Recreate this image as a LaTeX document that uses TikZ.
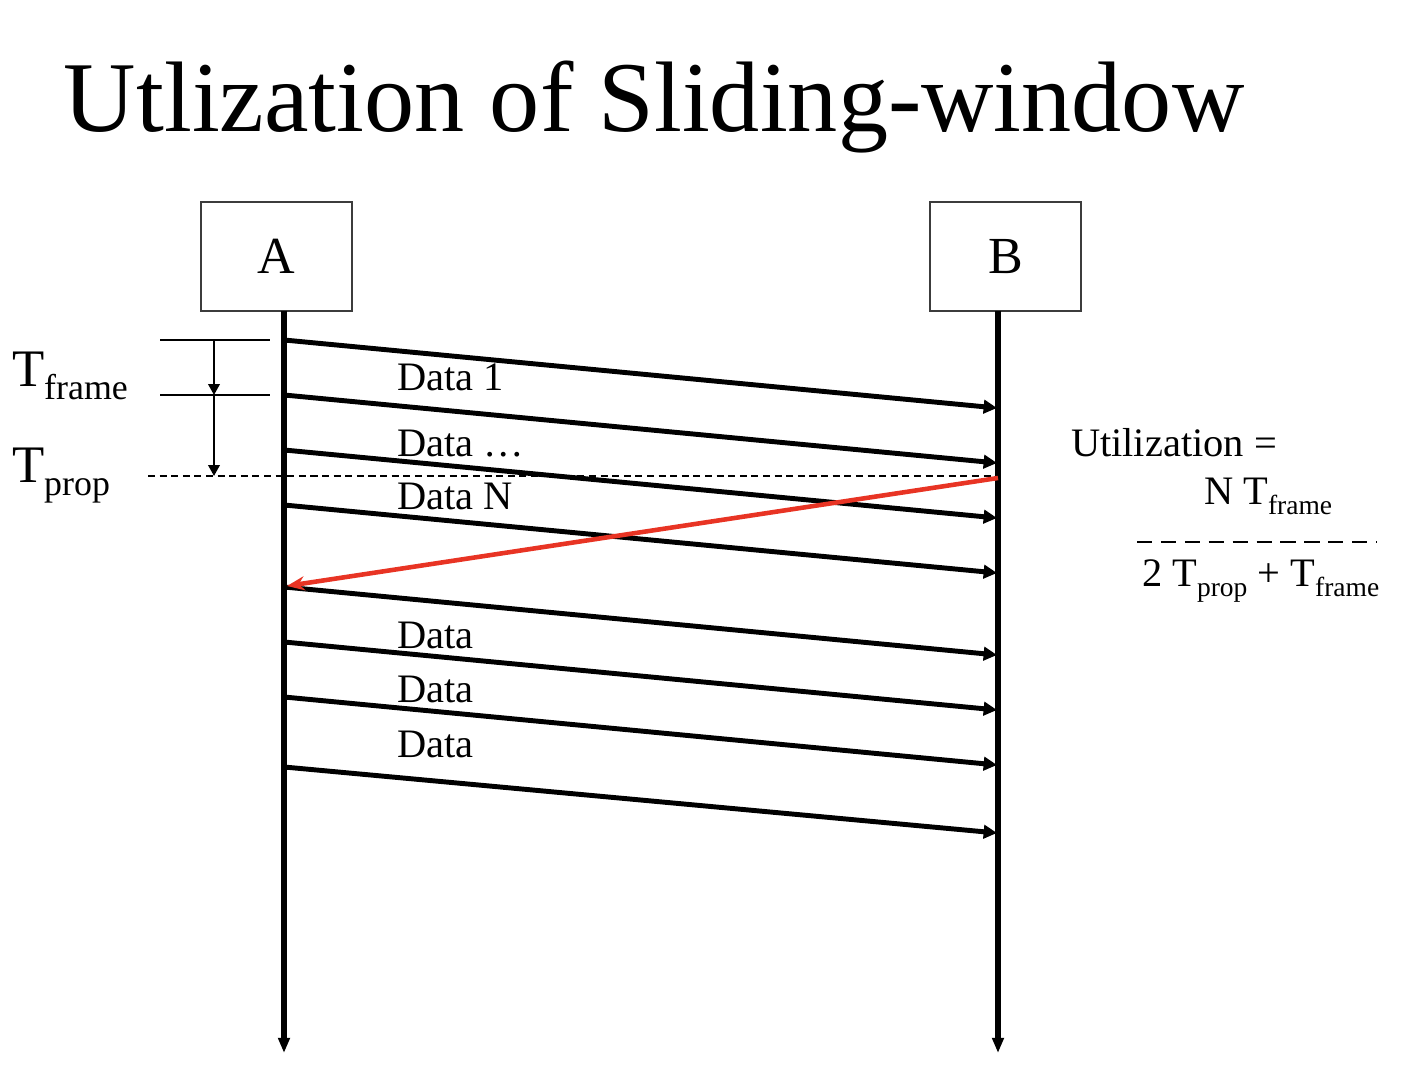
\documentclass[tikz,border=0pt]{standalone}
\usepackage{fontspec}
\setmainfont{Liberation Serif}
\usetikzlibrary{arrows.meta}
\definecolor{ackred}{RGB}{232,52,36}
\definecolor{boxgray}{RGB}{60,60,60}
% T with a lowered subscript
\newcommand{\Tsub}[1]{T\raisebox{-0.24em}{\fontsize{0.68em}{0.8em}\selectfont #1}}
\begin{document}
\begin{tikzpicture}[x=0.01cm,y=-0.01cm,
  every node/.style={inner sep=0pt, outer sep=0pt},
  station/.style={draw=boxgray, line width=0.6pt, minimum width=1.51cm, minimum height=1.09cm, font=\fontsize{14.8}{17}\selectfont},
  lifeline/.style={line width=1.7pt, -{Triangle[length=4.3pt,width=3.2pt]}},
  frame/.style={line width=1.4pt, -{Triangle[length=3.8pt,width=3.8pt]}},
  ack/.style={ackred, line width=1.3pt, -{Stealth[length=5pt,width=4pt]}},
  tick/.style={line width=0.45pt},
  span/.style={line width=0.45pt, -{Triangle[length=3.1pt,width=3.3pt]}},
  lbl/.style={anchor=base west, font=\fontsize{11.5}{13}\selectfont},
  tlbl/.style={anchor=base west, font=\fontsize{15}{18}\selectfont}]
\useasboundingbox (0,0) rectangle (1402,1092);
\node[anchor=base west, font=\fontsize{28.5}{34}\selectfont] (title) at (64,132) {Utlization of Sliding-window};
\node[station] (A) at (276.5,256.5) {A};
\node[station] (B) at (1005.5,256.5) {B};
\coordinate (atop) at (284,311);
\coordinate (abot) at (284,1053);
\coordinate (btop) at (998,311);
\coordinate (bbot) at (998,1053);
\draw[lifeline] (atop) -- (abot);
\draw[lifeline] (btop) -- (bbot);
% timing marks on the left
\coordinate (f0l) at (160,340); \coordinate (f0r) at (270,340);
\coordinate (f1l) at (160,395); \coordinate (f1r) at (270,395);
\coordinate (m0) at (214,340); \coordinate (m1) at (214,395); \coordinate (m2) at (214,476);
\draw[tick] (f0l) -- (f0r);
\draw[tick] (f1l) -- (f1r);
\draw[span] (m0) -- (m1);
\draw[span] (m1) -- (m2);
\coordinate (pl) at (148,476); \coordinate (pr) at (998,476);
\draw[line width=0.4pt, dash pattern=on 2pt off 1.3pt] (pl) -- (pr);
\node[tlbl] (tf) at (12,387) {\Tsub{frame}};
\node[tlbl] (tp) at (12,483) {\Tsub{prop}};
% frames from A to B
\coordinate (s1) at (284,340); \coordinate (r1) at (997,408);
\coordinate (s2) at (284,395); \coordinate (r2) at (997,463);
\coordinate (s3) at (284,450); \coordinate (r3) at (997,518);
\coordinate (s4) at (284,505); \coordinate (r4) at (997,573);
\coordinate (s5) at (284,587); \coordinate (r5) at (997,655);
\coordinate (s6) at (284,642); \coordinate (r6) at (997,710);
\coordinate (s7) at (284,697); \coordinate (r7) at (997,765);
\coordinate (s8) at (284,767); \coordinate (r8) at (997,833);
\draw[frame] (s1) -- (r1);
\draw[frame] (s2) -- (r2);
\draw[frame] (s3) -- (r3);
\draw[frame] (s4) -- (r4);
\draw[frame] (s5) -- (r5);
\draw[frame] (s6) -- (r6);
\draw[frame] (s7) -- (r7);
\draw[frame] (s8) -- (r8);
\node[lbl] (d1) at (397,391) {Data 1};
\node[lbl] (d2) at (397,457) {Data \dots};
\node[lbl] (d3) at (397,510) {Data N};
\node[lbl] (d5) at (397,649) {Data};
\node[lbl] (d6) at (397,703) {Data};
\node[lbl] (d7) at (397,758) {Data};
% acknowledgement back to A
\coordinate (ackb) at (998,478);
\coordinate (acka) at (287,586);
\draw[ack] (ackb) -- (acka);
% utilization formula
\node[lbl] (util) at (1071,457) {Utilization =};
\node[lbl] (num) at (1204,505) {N \Tsub{frame}};
\coordinate (fl) at (1137,542); \coordinate (fr) at (1377,542);
\draw[line width=0.45pt, dash pattern=on 4.3pt off 2.5pt] (fl) -- (fr);
\node[lbl] (den) at (1142,587) {2 \Tsub{prop} + \Tsub{frame}};
\end{tikzpicture}
\end{document}
